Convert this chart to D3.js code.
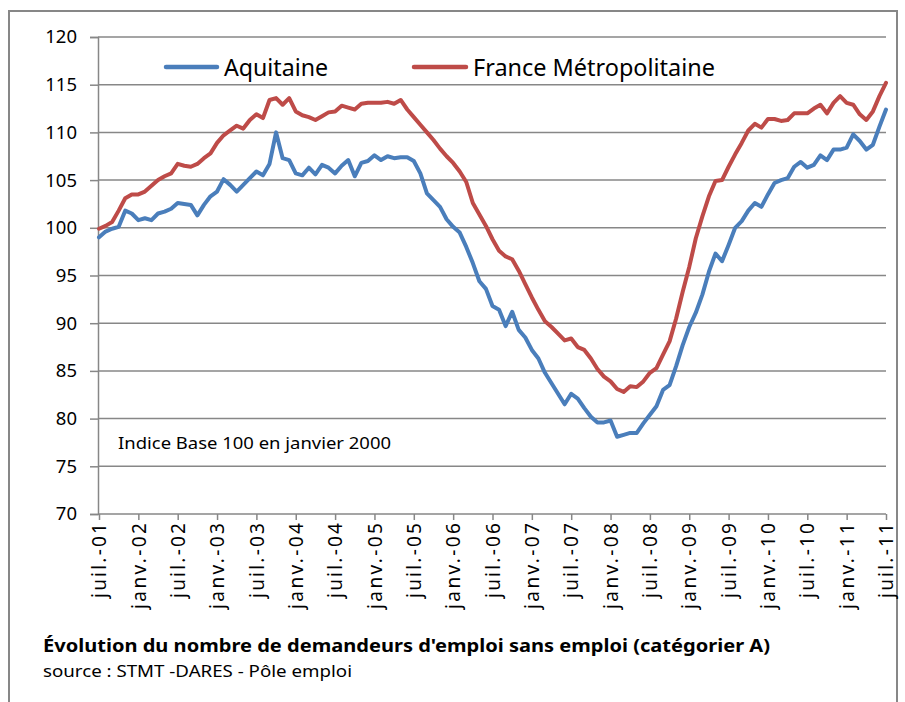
<!DOCTYPE html>
<html>
<head>
<meta charset="utf-8">
<script src="https://cdnjs.cloudflare.com/ajax/libs/d3/7.8.5/d3.min.js"></script>
<style>
body { margin: 0; background: #fff; }
</style>
</head>
<body>
<div id="chart"></div>
<script>
var W = 905,
H = 702;

// monthly index, juil. 2001 -> juil. 2011
var aquitaine = [
99.0, 99.6, 99.9, 100.1, 101.8, 101.5, 100.8, 101.0, 100.8, 101.5, 101.7, 102.0,
102.6, 102.5, 102.4, 101.3, 102.4, 103.3, 103.8, 105.1, 104.5, 103.8, 104.5, 105.2,
105.9, 105.5, 106.7, 110.0, 107.3, 107.1, 105.7, 105.5, 106.3, 105.6, 106.6, 106.3,
105.7, 106.5, 107.1, 105.4, 106.8, 107.0, 107.6, 107.1, 107.5, 107.3, 107.4, 107.4,
107.0, 105.7, 103.6, 102.9, 102.2, 100.9, 100.1, 99.5, 98.0, 96.3, 94.4, 93.6,
91.8, 91.4, 89.7, 91.2, 89.3, 88.5, 87.2, 86.3, 84.8, 83.7, 82.6, 81.5,
82.6, 82.1, 81.1, 80.2, 79.6, 79.6, 79.8, 78.1, 78.3, 78.5, 78.5, 79.5,
80.4, 81.3, 83.0, 83.5, 85.5, 87.7, 89.6, 91.1, 93.0, 95.4, 97.3, 96.5,
98.2, 100.0, 100.7, 101.8, 102.6, 102.2, 103.5, 104.7, 105.0, 105.2, 106.4, 106.9,
106.3, 106.6, 107.6, 107.1, 108.2, 108.2, 108.4, 109.8, 109.1, 108.2, 108.7, 110.6,
112.4
];
var france = [
99.9, 100.2, 100.6, 101.8, 103.1, 103.5, 103.5, 103.8, 104.4, 105.0, 105.4, 105.7,
106.7, 106.5, 106.4, 106.7, 107.3, 107.8, 108.9, 109.7, 110.2, 110.7, 110.4, 111.3,
111.9, 111.5, 113.4, 113.6, 112.9, 113.6, 112.2, 111.8, 111.6, 111.3, 111.7, 112.1,
112.2, 112.8, 112.6, 112.4, 113.0, 113.1, 113.1, 113.1, 113.2, 113.0, 113.4, 112.4,
111.6, 110.8, 110.0, 109.2, 108.3, 107.5, 106.8, 105.9, 104.8, 102.6, 101.4, 100.2,
98.8, 97.6, 97.0, 96.7, 95.5, 94.1, 92.7, 91.4, 90.2, 89.6, 88.9, 88.2,
88.4, 87.5, 87.2, 86.3, 85.2, 84.4, 83.9, 83.1, 82.8, 83.4, 83.3, 83.9,
84.8, 85.3, 86.7, 88.1, 90.5, 93.3, 95.9, 98.9, 101.2, 103.3, 104.9, 105.0,
106.4, 107.7, 108.9, 110.2, 110.9, 110.5, 111.4, 111.4, 111.2, 111.3, 112.0, 112.0,
112.0, 112.5, 112.9, 112.0, 113.1, 113.8, 113.1, 112.9, 111.9, 111.3, 112.2, 113.8,
115.2
];
var tickLabels = ['juil.-01', 'janv.-02', 'juil.-02', 'janv.-03', 'juil.-03', 'janv.-04', 'juil.-04',
'janv.-05', 'juil.-05', 'janv.-06', 'juil.-06', 'janv.-07', 'juil.-07', 'janv.-08', 'juil.-08',
'janv.-09', 'juil.-09', 'janv.-10', 'juil.-10', 'janv.-11', 'juil.-11'];
var yTicks = [70, 75, 80, 85, 90, 95, 100, 105, 110, 115, 120];
var seriesNames = ['Aquitaine', 'France Métropolitaine'];
var seriesColors = ['#4a7ebb', '#be4b48'];

var FONT = '"Noto Sans", "Open Sans", sans-serif';
var GRID = '#878787';
var svg, x, y;

init();

function init() {
	svg = d3.select('#chart').append('svg')
	.attr('width', W)
	.attr('height', H)
	.attr('viewBox', '0 0 ' + W + ' ' + H);

	x = d3.scaleLinear().domain([0, aquitaine.length - 1]).range([99, 886]);
	y = d3.scaleLinear().domain([70, 120]).range([514, 37]);

	// outer frame
	svg.append('rect')
	.attr('x', 9).attr('y', 11)
	.attr('width', 888).attr('height', 720)
	.attr('fill', 'none')
	.attr('stroke', GRID)
	.attr('stroke-width', 2);

	drawAxes();
	drawLines();
	drawLegend();
	drawTexts();
}

function drawAxes() {
	var yAxis = d3.axisLeft(y).tickValues(yTicks).tickSize(8).tickPadding(13);
	var gy = svg.append('g').attr('transform', 'translate(' + 98 + ',0)').call(yAxis);
	gy.select('.domain').attr('stroke', GRID).attr('stroke-width', 1.5);
	gy.selectAll('.tick line').attr('stroke', GRID).attr('stroke-width', 1.5);
	gy.selectAll('.tick text')
	.attr('font-family', FONT)
	.attr('font-size', '18.5px')
	.attr('fill', '#000');

	// horizontal gridlines
	svg.append('g').selectAll('line')
	.data(yTicks.filter(function(d) { return d > 70; }))
	.enter().append('line')
	.attr('x1', 98).attr('x2', 886)
	.attr('y1', function(d) { return y(d); })
	.attr('y2', function(d) { return y(d); })
	.attr('stroke', GRID)
	.attr('stroke-width', 1.5);

	var tickIdx = tickLabels.map(function(d, i) { return i * 6; });
	var xAxis = d3.axisBottom(x).tickValues(tickIdx).tickSize(6).tickPadding(0)
	.tickFormat(function(d, i) { return tickLabels[i]; });
	var gx = svg.append('g').attr('transform', 'translate(0,' + 514 + ')').call(xAxis);
	gx.select('.domain').attr('stroke', GRID).attr('stroke-width', 1.5)
	.attr('d', 'M98,0H886');
	gx.selectAll('.tick line').attr('stroke', GRID).attr('stroke-width', 1.5);
	gx.selectAll('.tick text')
	.attr('font-family', FONT)
	.attr('font-size', '19px')
	.attr('fill', '#000')
	.attr('text-anchor', 'end')
	.attr('transform', 'rotate(-90)')
	.attr('x', -9)
	.attr('y', 0)
	.attr('dy', '0.35em')
	.attr('textLength', function(d, i) { return tickLabels[i].indexOf('juil') === 0 ? 75 : 86; })
	.attr('lengthAdjust', 'spacing');
}

function drawLines() {
	var line = d3.line()
	.x(function(d, i) { return x(i); })
	.y(function(d) { return y(d); });

	[aquitaine, france].forEach(function(s, k) {
		svg.append('path')
		.datum(s)
		.attr('d', line)
		.attr('fill', 'none')
		.attr('stroke', seriesColors[k])
		.attr('stroke-width', 4)
		.attr('stroke-linejoin', 'round')
		.attr('stroke-linecap', 'round');
	});
}

function drawLegend() {
	var pos = [{x1: 166, x2: 217, tx: 224, len: 104}, {x1: 414, x2: 466, tx: 473, len: 242}];
	var lg = svg.append('g').selectAll('g')
	.data(seriesNames)
	.enter().append('g');
	lg.append('line')
	.attr('x1', function(d, i) { return pos[i].x1; })
	.attr('x2', function(d, i) { return pos[i].x2; })
	.attr('y1', 67).attr('y2', 67)
	.attr('stroke', function(d, i) { return seriesColors[i]; })
	.attr('stroke-width', 4.5)
	.attr('stroke-linecap', 'round');
	lg.append('text')
	.attr('x', function(d, i) { return pos[i].tx; })
	.attr('y', 76)
	.attr('font-family', FONT)
	.attr('font-size', '23px')
	.attr('fill', '#000')
	.attr('textLength', function(d, i) { return pos[i].len; })
	.attr('lengthAdjust', 'spacingAndGlyphs')
	.text(function(d) { return d; });
}

function drawTexts() {
	svg.append('text')
	.attr('x', 118).attr('y', 449)
	.attr('font-family', FONT)
	.attr('font-size', '16.5px')
	.attr('textLength', 273)
	.attr('lengthAdjust', 'spacingAndGlyphs')
	.text('Indice Base 100 en janvier 2000');

	svg.append('text')
	.attr('x', 43).attr('y', 652)
	.attr('font-family', FONT)
	.attr('font-size', '18.5px')
	.attr('font-weight', 'bold')
	.attr('textLength', 727)
	.attr('lengthAdjust', 'spacingAndGlyphs')
	.text("Évolution du nombre de demandeurs d'emploi sans emploi (catégorier A)");

	svg.append('text')
	.attr('x', 43).attr('y', 677)
	.attr('font-family', FONT)
	.attr('font-size', '16.5px')
	.attr('textLength', 309)
	.attr('lengthAdjust', 'spacingAndGlyphs')
	.text('source : STMT -DARES - Pôle emploi');
}
</script>
</body>
</html>
